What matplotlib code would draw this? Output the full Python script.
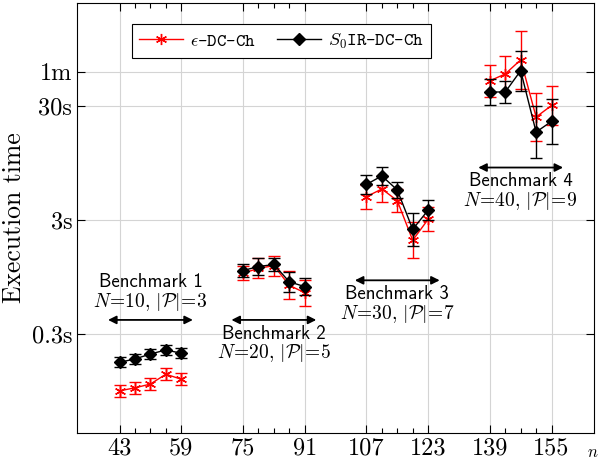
import matplotlib.pyplot as plt
from matplotlib.lines import Line2D
from matplotlib.ticker import NullLocator

plt.rcParams['mathtext.fontset'] = 'cm'
plt.rcParams['font.family'] = 'cmr10'
plt.rcParams['axes.formatter.use_mathtext'] = True

# problem sizes, one list per benchmark
n_groups = [[43, 47, 51, 55, 59],
            [75, 79, 83, 87, 91],
            [107, 111, 115, 119, 123],
            [139, 143, 147, 151, 155]]

# execution times in seconds
eps_time = [[0.095, 0.101, 0.109, 0.133, 0.120],
            [1.02, 1.13, 1.19, 0.80, 0.69],
            [4.80, 5.61, 4.43, 1.99, 3.04],
            [49.9, 57.3, 76.2, 24.0, 30.3]]
s0_time = [[0.169, 0.181, 0.200, 0.217, 0.203],
           [1.08, 1.17, 1.22, 0.86, 0.78],
           [6.15, 7.30, 5.50, 2.48, 3.66],
           [39.8, 39.8, 61.2, 17.7, 22.0]]

# spread of the error bars (multiplicative)
eps_spread = [[1.13, 1.13, 1.13, 1.13, 1.13],
              [1.15, 1.22, 1.22, 1.33, 1.30],
              [1.27, 1.29, 1.26, 1.44, 1.27],
              [1.38, 1.44, 1.80, 1.61, 1.47]]
s0_spread = [[1.11, 1.11, 1.11, 1.11, 1.11],
             [1.13, 1.18, 1.15, 1.22, 1.18],
             [1.22, 1.20, 1.18, 1.40, 1.22],
             [1.29, 1.25, 1.50, 1.70, 1.57]]

bench_names = ['Benchmark 1', 'Benchmark 2', 'Benchmark 3', 'Benchmark 4']
bench_info = [r'$N\!=\!10,\,|\mathcal{P}|\!=\!3$', r'$N\!=\!20,\,|\mathcal{P}|\!=\!5$',
              r'$N\!=\!30,\,|\mathcal{P}|\!=\!7$', r'$N\!=\!40,\,|\mathcal{P}|\!=\!9$']
arrow_y = [0.398, 0.398, 0.886, 8.65]
text_above = [True, False, False, False]

xticks = [43, 59, 75, 91, 107, 123, 139, 155]
yticks = [0.3, 3, 30, 60]
ylabels = ['0.3s', '3s', '30s', '1m']

fig = plt.figure(figsize=(6.03, 4.65), dpi=100)
ax = fig.add_axes([0.128, 0.069, 0.857, 0.924])
ax.set_yscale('log')

for i in range(4):
    n = n_groups[i]
    err = [[t - t / f for t, f in zip(eps_time[i], eps_spread[i])],
           [t * f - t for t, f in zip(eps_time[i], eps_spread[i])]]
    ax.errorbar(n, eps_time[i], yerr=err, color='red', ecolor='red', lw=1, elinewidth=1,
                capsize=4.5, capthick=1, marker=(6, 2, 0), ms=8, mew=1, zorder=3)
    err = [[t - t / f for t, f in zip(s0_time[i], s0_spread[i])],
           [t * f - t for t, f in zip(s0_time[i], s0_spread[i])]]
    ax.errorbar(n, s0_time[i], yerr=err, color='black', ecolor='black', lw=1, elinewidth=1,
                capsize=4.5, capthick=1, marker='D', ms=6.5, zorder=4)

    x0, x1 = n[0] - 3, n[-1] + 3
    xc = (n[0] + n[-1]) / 2
    ax.annotate('', xy=(x0, arrow_y[i]), xytext=(x1, arrow_y[i]),
                arrowprops=dict(arrowstyle='<|-|>', color='black', lw=1.3,
                                mutation_scale=12, shrinkA=0, shrinkB=0))
    if text_above[i]:
        off1, off2 = 27, 13
    else:
        off1, off2 = -10, -24
    ax.annotate(bench_names[i], xy=(xc, arrow_y[i]), xytext=(0, off1),
                textcoords='offset points', ha='center', va='center',
                family='cmss10', fontsize=13.5)
    ax.annotate(bench_info[i], xy=(xc, arrow_y[i]), xytext=(0, off2),
                textcoords='offset points', ha='center', va='center', fontsize=14)

ax.set_xlim(32, 166)
ax.set_ylim(0.0406, 239)
ax.set_xticks(xticks)
ax.set_xticklabels([str(v) for v in xticks])
ax.set_xticks([v for g in n_groups for v in g if v not in xticks], minor=True)
ax.set_yticks(yticks)
ax.set_yticklabels(ylabels)
ax.yaxis.set_minor_locator(NullLocator())
ax.tick_params(which='both', direction='in', top=True, right=True, labelsize=17.5, width=0.8)
ax.tick_params(which='major', length=6)
ax.tick_params(which='minor', length=3.5)
ax.grid(True, which='major', color='#d4d4d4', lw=0.8)
ax.set_axisbelow(True)

ax.set_ylabel('Execution time', fontsize=18.5, labelpad=4)
ax.text(0.997, -0.045, r'$n$', transform=ax.transAxes, fontsize=12, ha='center', va='center')

handles = [Line2D([], [], color='red', lw=1, marker=(6, 2, 0), ms=8, mew=1),
           Line2D([], [], color='black', lw=1, marker='D', ms=6.5)]
leg = ax.legend(handles, [r'$\epsilon$-DC-Ch', r'$S_0$IR-DC-Ch'],
                loc='upper left', bbox_to_anchor=(0.106, 0.951), ncol=2, fancybox=False,
                edgecolor='black', framealpha=1, borderaxespad=0, handlelength=2.4,
                handletextpad=0.4, columnspacing=1.2, prop={'family': 'cmtt10', 'size': 13})
leg.get_frame().set_linewidth(0.8)

fig.savefig('out.png', dpi=100)
